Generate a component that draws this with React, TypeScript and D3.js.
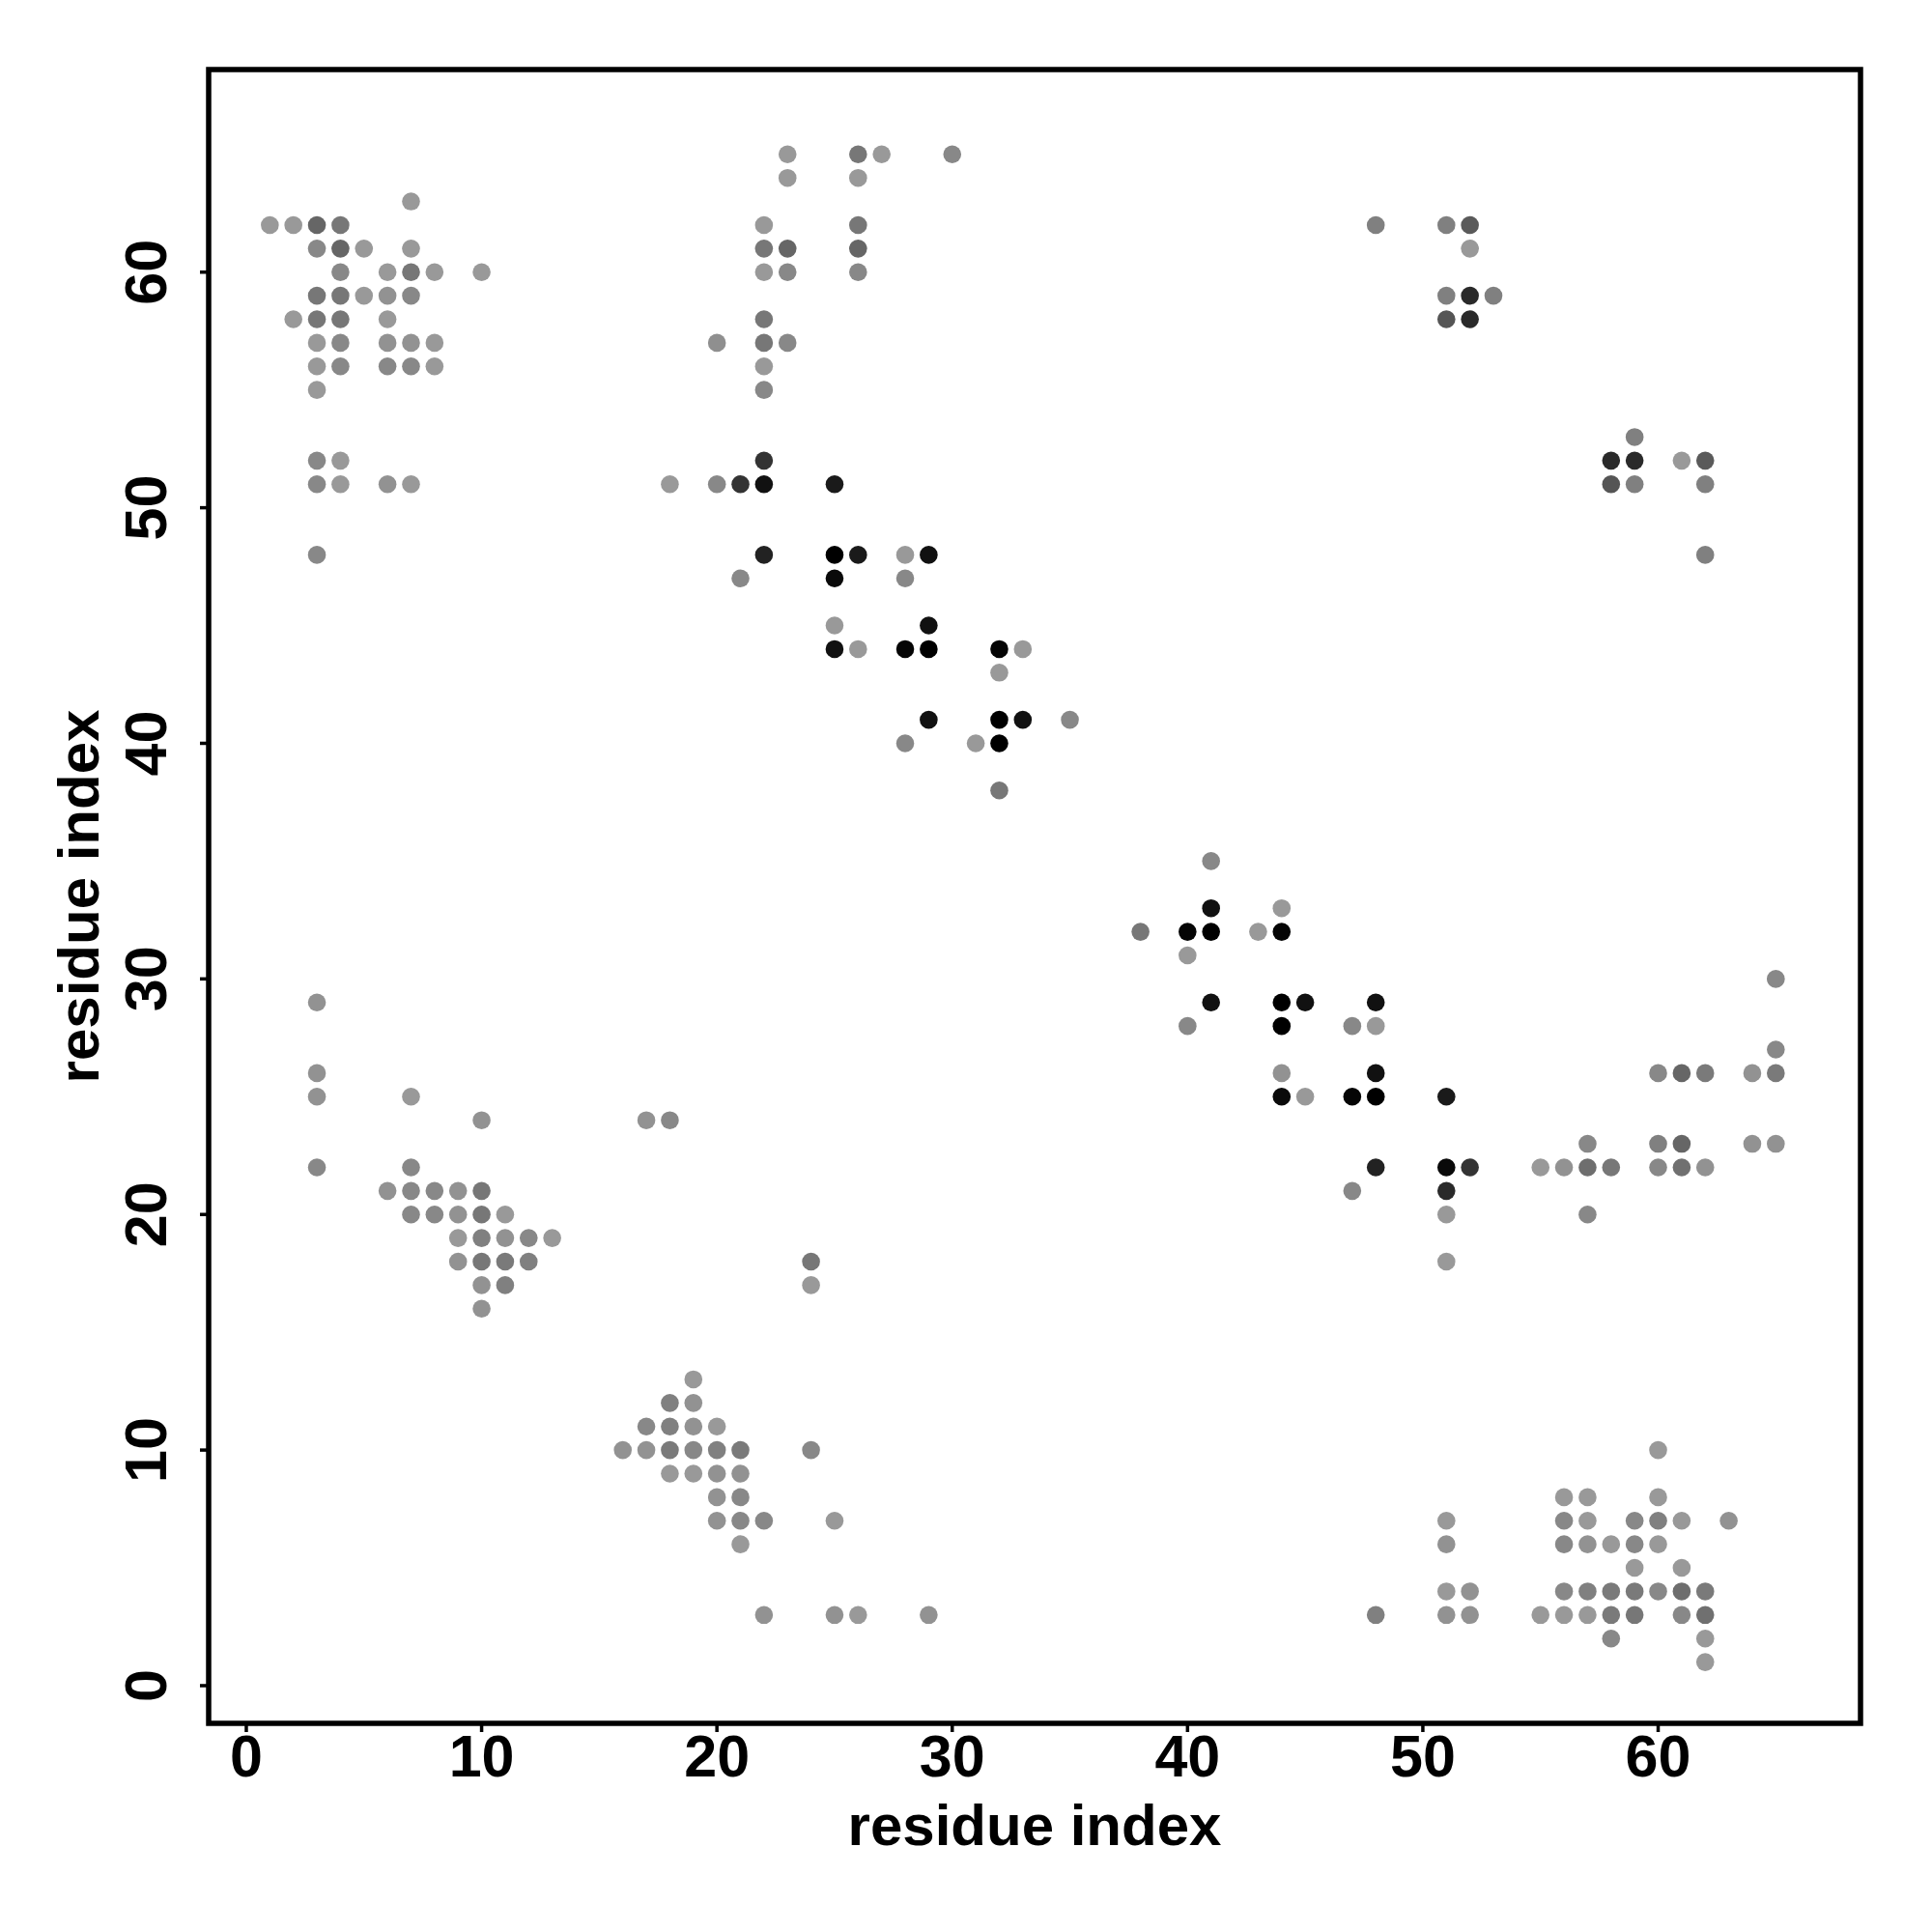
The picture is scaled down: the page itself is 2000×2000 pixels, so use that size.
import React from "react";
import * as d3 from "d3";

// Each contact: [residue i (x), residue j (y), gray level 0-255]
const topLeftContacts: [number, number, number][] = [
  [7, 63, 0x99],
  [1, 62, 0x99], [2, 62, 0x99], [3, 62, 0x66], [4, 62, 0x77],
  [3, 61, 0x88], [4, 61, 0x66], [5, 61, 0x99], [7, 61, 0x99],
  [4, 60, 0x88], [6, 60, 0x99], [7, 60, 0x77], [8, 60, 0x99], [10, 60, 0x99],
  [3, 59, 0x77], [4, 59, 0x77], [5, 59, 0x99], [6, 59, 0x92], [7, 59, 0x88],
  [2, 58, 0x99], [3, 58, 0x77], [4, 58, 0x77], [6, 58, 0x99],
  [3, 57, 0x99], [4, 57, 0x88], [6, 57, 0x92], [7, 57, 0x92], [8, 57, 0x99],
  [3, 56, 0x99], [4, 56, 0x88], [6, 56, 0x88], [7, 56, 0x88], [8, 56, 0x99],
  [3, 55, 0x99],
  [3, 52, 0x88], [4, 52, 0x99],
  [3, 51, 0x88], [4, 51, 0x99], [6, 51, 0x92], [7, 51, 0x99],
  [3, 48, 0x88],
];

const upperMidContacts: [number, number, number][] = [
  [23, 65, 0x99], [26, 65, 0x77], [27, 65, 0x99], [30, 65, 0x88],
  [23, 64, 0x99], [26, 64, 0x99],
  [22, 62, 0x99], [26, 62, 0x77],
  [22, 61, 0x77], [23, 61, 0x66], [26, 61, 0x66],
  [22, 60, 0x99], [23, 60, 0x88], [26, 60, 0x88],
  [22, 58, 0x77],
  [20, 57, 0x8f], [22, 57, 0x77], [23, 57, 0x88],
  [22, 56, 0x99],
  [22, 55, 0x88],
];

const upperDiagonalContacts: [number, number, number][] = [
  [22, 52, 0x33],
  [18, 51, 0x99], [20, 51, 0x88], [21, 51, 0x33], [22, 51, 0x11], [25, 51, 0x1a],
  [22, 48, 0x22], [25, 48, 0x00], [26, 48, 0x1a], [28, 48, 0x99], [29, 48, 0x11],
  [21, 47, 0x88], [25, 47, 0x0a], [28, 47, 0x88],
  [25, 45, 0x99], [29, 45, 0x11],
  [25, 44, 0x11], [26, 44, 0x99], [28, 44, 0x05], [29, 44, 0x00], [32, 44, 0x05], [33, 44, 0x99],
  [32, 43, 0x99],
  [29, 41, 0x11], [32, 41, 0x00], [33, 41, 0x11], [35, 41, 0x88],
  [28, 40, 0x88], [31, 40, 0x99], [32, 40, 0x00],
  [32, 38, 0x77],
];

const topRightContacts: [number, number, number][] = [
  [48, 62, 0x80], [51, 62, 0x80], [52, 62, 0x5a],
  [52, 61, 0x99],
  [51, 59, 0x80], [52, 59, 0x2a], [53, 59, 0x80],
  [51, 58, 0x55], [52, 58, 0x2a],
  [59, 53, 0x80],
  [58, 52, 0x2a], [59, 52, 0x2a], [61, 52, 0x99], [62, 52, 0x5a],
  [58, 51, 0x55], [59, 51, 0x80], [62, 51, 0x80],
  [62, 48, 0x80],
];

const lowerDiagonalContacts: [number, number, number][] = [
  [41, 35, 0x88],
  [41, 33, 0x11], [44, 33, 0x99],
  [38, 32, 0x77], [40, 32, 0x05], [41, 32, 0x00], [43, 32, 0x99], [44, 32, 0x05],
  [40, 31, 0x99],
  [41, 29, 0x11], [44, 29, 0x00], [45, 29, 0x11], [48, 29, 0x11],
  [40, 28, 0x88], [44, 28, 0x00], [47, 28, 0x88], [48, 28, 0x99],
  [44, 26, 0x92], [48, 26, 0x11],
  [44, 25, 0x0a], [45, 25, 0x99], [47, 25, 0x05], [48, 25, 0x00], [51, 25, 0x1a],
  [48, 22, 0x22], [51, 22, 0x0a], [52, 22, 0x33], [55, 22, 0x99],
  [47, 21, 0x88], [51, 21, 0x2a],
  [51, 20, 0x99],
  [51, 18, 0x99],
];

const rightMidContacts: [number, number, number][] = [
  [65, 30, 0x88],
  [65, 27, 0x88],
  [60, 26, 0x88], [61, 26, 0x66], [62, 26, 0x7a], [64, 26, 0x92], [65, 26, 0x7a],
  [57, 23, 0x88], [60, 23, 0x80], [61, 23, 0x66], [64, 23, 0x92], [65, 23, 0x92],
  [56, 22, 0x92], [57, 22, 0x6e], [58, 22, 0x77], [60, 22, 0x88], [61, 22, 0x70], [62, 22, 0x92],
  [57, 20, 0x88],
];

const lowerLeftContacts: [number, number, number][] = [
  [3, 29, 0x92], [3, 26, 0x92], [3, 25, 0x92], [7, 25, 0x99], [10, 24, 0x92],
  [17, 24, 0x92], [18, 24, 0x88],
  [3, 22, 0x88], [7, 22, 0x88],
  [6, 21, 0x92], [7, 21, 0x88], [8, 21, 0x88], [9, 21, 0x92], [10, 21, 0x77],
  [7, 20, 0x88], [8, 20, 0x88], [9, 20, 0x92], [10, 20, 0x77], [11, 20, 0x99],
  [9, 19, 0x99], [10, 19, 0x80], [11, 19, 0x92], [12, 19, 0x88], [13, 19, 0x99],
  [9, 18, 0x92], [10, 18, 0x77], [11, 18, 0x7a], [12, 18, 0x80],
  [10, 17, 0x92], [11, 17, 0x80],
  [10, 16, 0x92],
];

const lowerMidContacts: [number, number, number][] = [
  [24, 18, 0x77], [24, 17, 0x99],
  [19, 13, 0x99],
  [18, 12, 0x80], [19, 12, 0x92],
  [17, 11, 0x88], [18, 11, 0x80], [19, 11, 0x92], [20, 11, 0x99],
  [16, 10, 0x92], [17, 10, 0x92], [18, 10, 0x7a], [19, 10, 0x88], [20, 10, 0x80], [21, 10, 0x7a], [24, 10, 0x88],
  [18, 9, 0x99], [19, 9, 0x99], [20, 9, 0x92], [21, 9, 0x92],
  [20, 8, 0x92], [21, 8, 0x88],
  [20, 7, 0x92], [21, 7, 0x88], [22, 7, 0x88], [25, 7, 0x99],
  [21, 6, 0x99],
  [22, 3, 0x92], [25, 3, 0x92], [26, 3, 0x99], [29, 3, 0x92],
];

const lowerRightContacts: [number, number, number][] = [
  [60, 10, 0x99],
  [56, 8, 0x99], [57, 8, 0x99], [60, 8, 0x99],
  [51, 7, 0x99], [56, 7, 0x88], [57, 7, 0x99], [59, 7, 0x88], [60, 7, 0x80], [61, 7, 0x99], [63, 7, 0x92],
  [51, 6, 0x92], [56, 6, 0x88], [57, 6, 0x92], [58, 6, 0x99], [59, 6, 0x88], [60, 6, 0x99],
  [59, 5, 0x99], [61, 5, 0x99],
  [51, 4, 0x99], [52, 4, 0x92], [56, 4, 0x88], [57, 4, 0x80], [58, 4, 0x7a], [59, 4, 0x7a], [60, 4, 0x88], [61, 4, 0x6e], [62, 4, 0x7a],
  [48, 3, 0x80], [51, 3, 0x92], [52, 3, 0x92], [55, 3, 0x99], [56, 3, 0x99], [57, 3, 0x99], [58, 3, 0x7a], [59, 3, 0x77], [61, 3, 0x88], [62, 3, 0x70],
  [58, 2, 0x88], [62, 2, 0x99],
  [62, 1, 0x99],
];

const xTicks = [0, 10, 20, 30, 40, 50, 60];
const yTicks = [0, 10, 20, 30, 40, 50, 60];
const residueRange: [number, number] = [1, 66];
const xTitle = "residue index";
const yTitle = "residue index";

export default function App() {
  const left = 216, right = 1926, top = 72, bottom = 1784;
  const pad = (residueRange[1] - residueRange[0]) * 0.04;
  const domain: [number, number] = [residueRange[0] - pad, residueRange[1] + pad];
  const x = d3.scaleLinear().domain(domain).range([left, right]);
  const y = d3.scaleLinear().domain(domain).range([bottom, top]);

  const all = [
    ...topLeftContacts,
    ...upperMidContacts,
    ...upperDiagonalContacts,
    ...topRightContacts,
    ...lowerDiagonalContacts,
    ...rightMidContacts,
    ...lowerLeftContacts,
    ...lowerMidContacts,
    ...lowerRightContacts,
  ];
  const color = (g: number) => d3.rgb(g, g, g).formatHex();
  const font = "'Liberation Sans', Arial, Helvetica, sans-serif";

  return (
    <svg
      width={2000}
      height={2000}
      style={{ position: "absolute", left: 0, top: 0, background: "#fff" }}
      fontFamily={font}
    >
      <rect x={0} y={0} width={2000} height={2000} fill="#fff" />
      {all.map(([i, j, g], k) => (
        <circle key={k} cx={x(i)} cy={y(j)} r={9.3} fill={color(g)} />
      ))}
      <rect
        x={left}
        y={top}
        width={right - left}
        height={bottom - top}
        fill="none"
        stroke="#000"
        strokeWidth={5.5}
      />
      {xTicks.map((t) => (
        <g key={"x" + t}>
          <line x1={x(t)} x2={x(t)} y1={bottom} y2={bottom + 9} stroke="#000" strokeWidth={3.5} />
          <text x={x(t)} y={1839} textAnchor="middle" fontSize={61} fontWeight="bold">
            {t}
          </text>
        </g>
      ))}
      {yTicks.map((t) => (
        <g key={"y" + t}>
          <line x1={left - 9} x2={left} y1={y(t)} y2={y(t)} stroke="#000" strokeWidth={3.5} />
          <text
            transform={`translate(172,${y(t)}) rotate(-90)`}
            textAnchor="middle"
            fontSize={61}
            fontWeight="bold"
          >
            {t}
          </text>
        </g>
      ))}
      <text x={(left + right) / 2} y={1910} textAnchor="middle" fontSize={60} fontWeight="bold">
        {xTitle}
      </text>
      <text
        transform={`translate(102,${(top + bottom) / 2}) rotate(-90)`}
        textAnchor="middle"
        fontSize={60}
        fontWeight="bold"
      >
        {yTitle}
      </text>
    </svg>
  );
}
